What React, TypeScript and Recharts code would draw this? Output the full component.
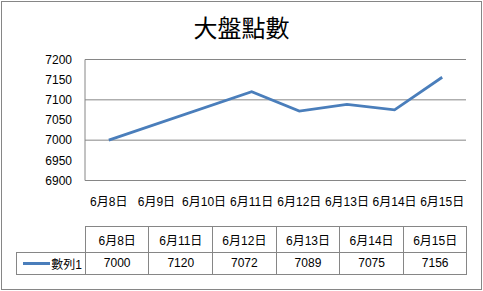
import React from 'react';
import { LineChart, Line, XAxis, YAxis, CartesianGrid } from 'recharts';

const chartTitle = '大盤點數';
const seriesName = '數列1';
const axisCategories = ['6月8日', '6月9日', '6月10日', '6月11日', '6月12日', '6月13日', '6月14日', '6月15日'];
const tableDates = ['6月8日', '6月11日', '6月12日', '6月13日', '6月14日', '6月15日'];
const seriesValues = [7000, 7120, 7072, 7089, 7075, 7156];
const yTicks = [6900, 6950, 7000, 7050, 7100, 7150, 7200];

const chartData = axisCategories.map((c) => {
  const i = tableDates.indexOf(c);
  return { date: c, value: i >= 0 ? seriesValues[i] : null };
});

const FONT = '"Liberation Sans", "Noto Sans CJK TC", sans-serif';
const GRID = '#868686';
const BLUE = '#4A7EBB';

export default function App() {
  const cellBorder = `1px solid ${GRID}`;
  return (
    <div style={{ position: 'absolute', left: 0, top: 0, width: 483, height: 291, background: '#fff', fontFamily: FONT }}>
      <div style={{ position: 'absolute', left: 1, top: 1, width: 481, height: 289, boxSizing: 'border-box', border: `1px solid ${GRID}` }} />
      <div style={{ position: 'absolute', left: 0, top: 12, width: 483, textAlign: 'center', fontFamily: '"Noto Sans CJK TC", sans-serif', fontSize: 24, lineHeight: '30px', color: '#000' }}>
        {chartTitle}
      </div>
      <div style={{ position: 'absolute', left: 0, top: 0 }}>
        <LineChart width={483} height={291} data={chartData} margin={{ top: 59.5, right: 17, left: 45, bottom: 80.5 }}>
          <CartesianGrid vertical={false} stroke={GRID} strokeWidth={1} />
          <XAxis
            dataKey="date"
            type="category"
            axisLine={{ stroke: GRID }}
            tickLine={false}
            tickMargin={11}
            interval={0}
            height={30}
            padding={{ left: 23.8, right: 23.8 }}
            tick={{ fill: '#000', fontSize: 12, fontFamily: FONT }}
          />
          <YAxis
            domain={[6900, 7200]}
            ticks={yTicks}
            width={40}
            axisLine={{ stroke: GRID }}
            tickLine={false}
            tickMargin={7}
            tick={{ fill: '#000', fontSize: 12, fontFamily: FONT }}
          />
          <Line
            type="linear"
            dataKey="value"
            name={seriesName}
            stroke={BLUE}
            strokeWidth={2.75}
            dot={false}
            connectNulls
            isAnimationActive={false}
          />
        </LineChart>
      </div>
      <table
        style={{
          position: 'absolute',
          left: 15.5,
          top: 225.5,
          borderCollapse: 'collapse',
          tableLayout: 'fixed',
          fontFamily: FONT,
          fontSize: 12,
          color: '#000',
          width: 451,
        }}
      >
        <colgroup>
          <col style={{ width: 69.4 }} />
          {tableDates.map((d) => (
            <col key={d} style={{ width: 63.6 }} />
          ))}
        </colgroup>
        <tbody>
          <tr style={{ height: 26 }}>
            <td style={{ border: 'none', padding: 0 }} />
            {tableDates.map((d) => (
              <td key={d} style={{ border: cellBorder, textAlign: 'center', padding: 0 }}>
                {d}
              </td>
            ))}
          </tr>
          <tr style={{ height: 22 }}>
            <td style={{ border: cellBorder, padding: 0 }}>
              <div style={{ display: 'flex', alignItems: 'center', justifyContent: 'flex-end', paddingRight: 3 }}>
                <span style={{ display: 'inline-block', width: 27, height: 3, background: BLUE, marginRight: 1 }} />
                <span>{seriesName}</span>
              </div>
            </td>
            {seriesValues.map((v, i) => (
              <td key={i} style={{ border: cellBorder, textAlign: 'center', padding: 0 }}>
                {v}
              </td>
            ))}
          </tr>
        </tbody>
      </table>
    </div>
  );
}
